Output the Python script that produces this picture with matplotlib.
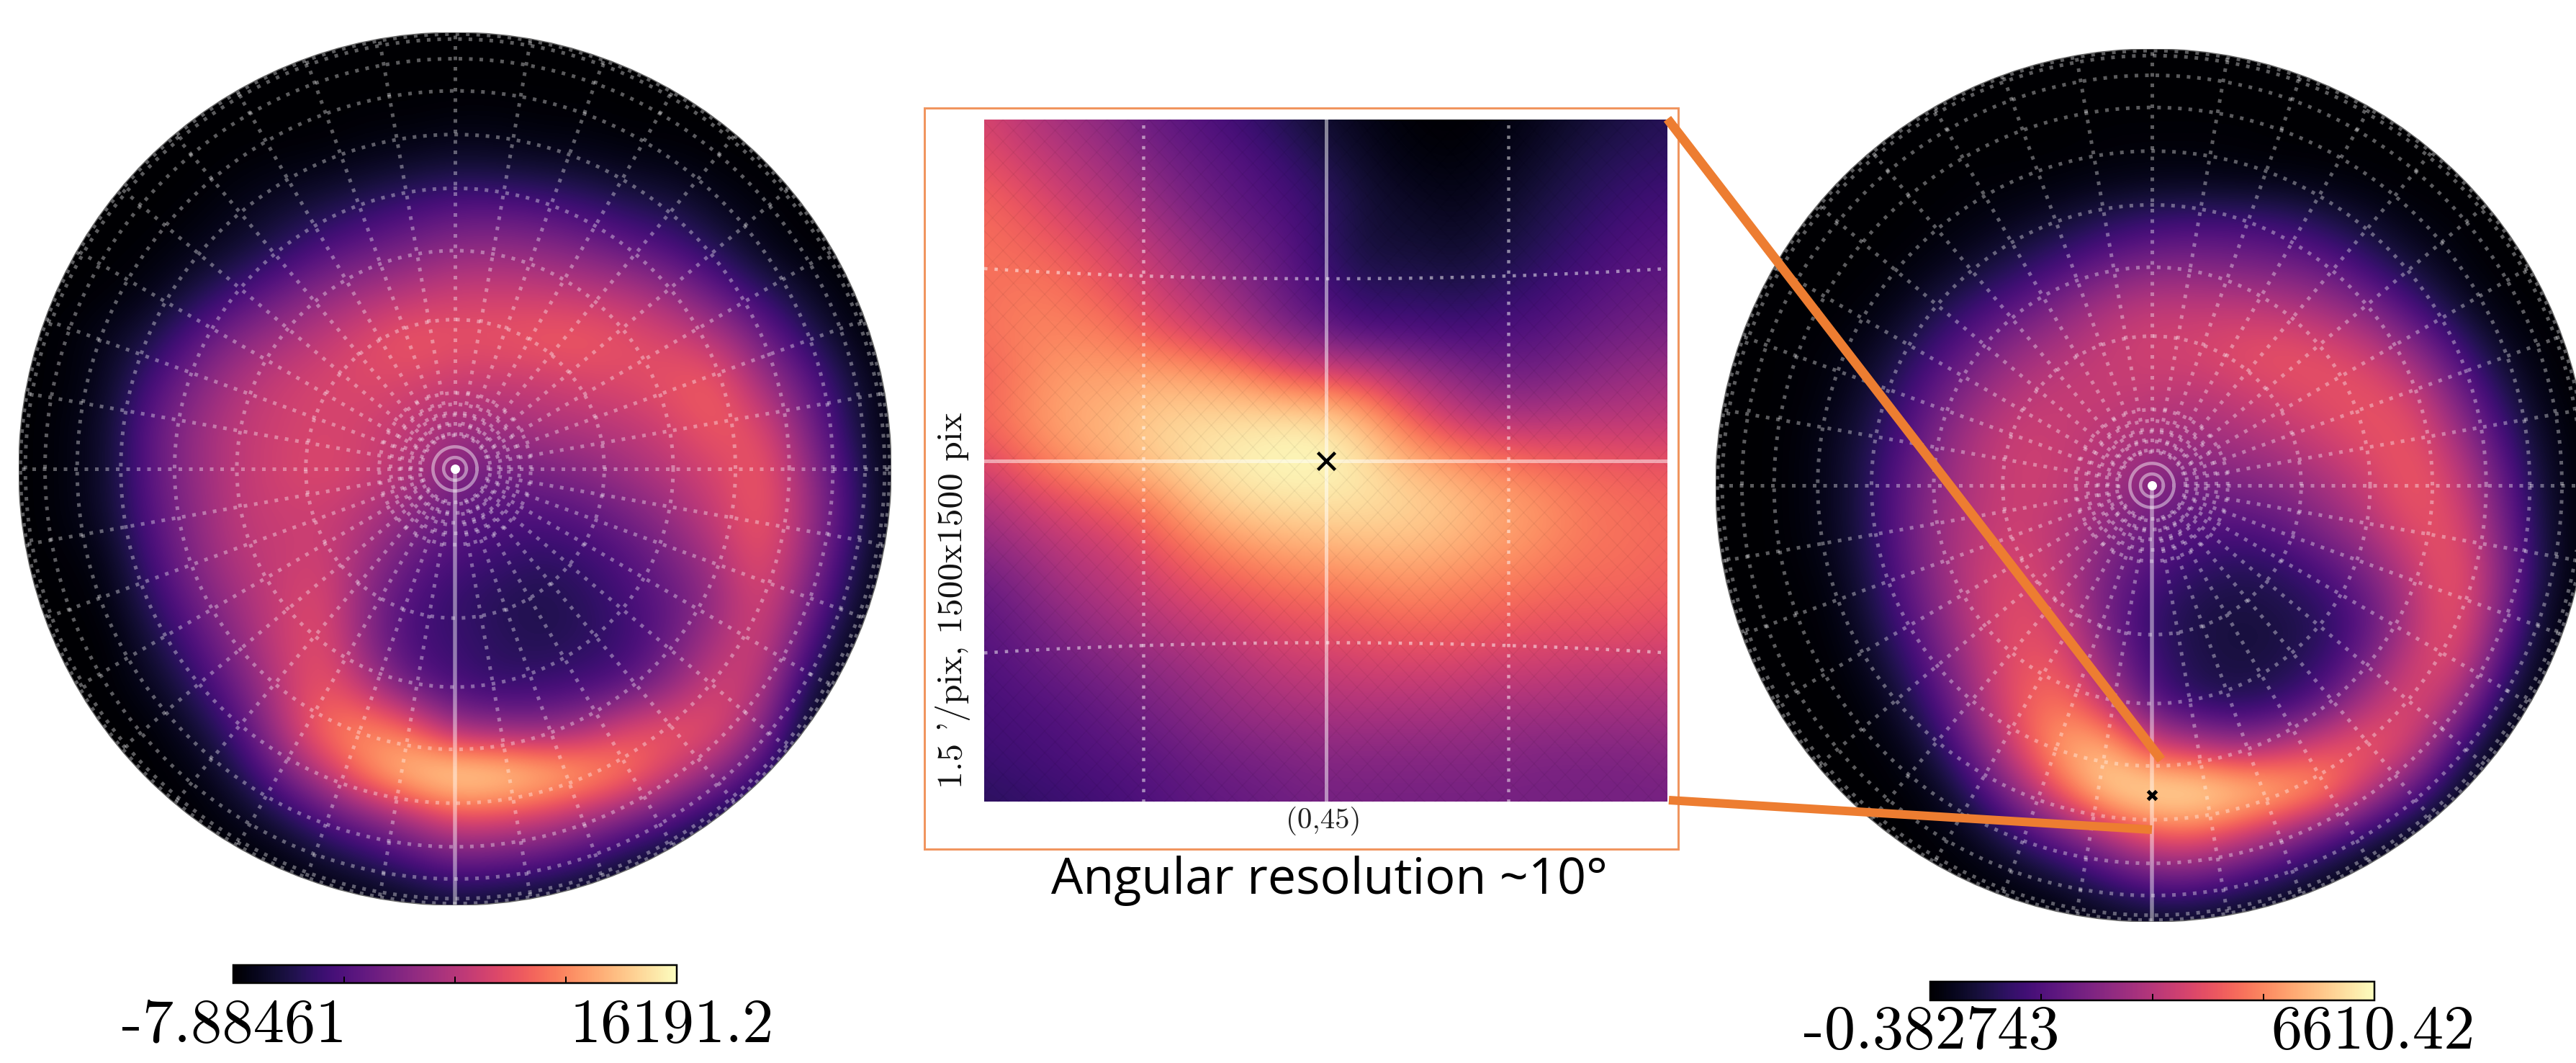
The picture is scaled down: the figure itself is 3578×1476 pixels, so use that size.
import numpy as np
import matplotlib
matplotlib.use("Agg")
import matplotlib.pyplot as plt
from matplotlib.patches import Circle, Rectangle

FW, FH = 3578, 1476
# colour level (percent of the colour scale), rows top to bottom, columns left to right
left_map = [
 [0]*21,
 [0]*21,
 [0,0,0,0,0,0,0,0,1,1,2,2,1,1,0,0,0,0,0,0,0],
 [0,0,0,0,0,1,2,3,5,7,9,8,7,6,4,3,1,0,0,0,0],
 [0,0,0,0,1,4,8,12,17,22,26,26,24,20,15,12,6,2,0,0,0],
 [0,0,0,1,4,9,16,25,31,36,41,42,40,36,30,24,15,6,1,0,0],
 [0,0,1,4,12,22,32,41,47,52,56,56,55,53,50,42,30,18,8,1,0],
 [0,1,5,12,26,38,46,53,60,66,63,64,66,66,62,58,50,34,18,5,0],
 [0,1,6,22,36,48,55,58,60,58,55,54,55,58,60,64,66,46,30,12,1],
 [0,2,8,28,42,52,56,58,56,52,45,45,48,50,52,58,66,60,38,15,1],
 [0,2,8,28,42,52,57,60,56,50,38,34,36,40,46,52,58,66,45,20,2],
 [0,2,8,26,40,52,55,55,50,40,30,26,25,28,35,44,55,66,48,22,2],
 [0,1,4,22,38,50,54,56,44,30,24,20,17,20,26,36,48,64,45,18,1],
 [0,0,2,16,32,45,55,60,38,24,18,15,13,16,22,30,42,60,38,12,0],
 [0,0,0,10,24,40,55,62,38,22,20,16,14,16,20,32,48,58,28,5,0],
 [0,0,0,5,16,32,52,65,50,30,22,18,20,22,28,42,58,52,15,1,0],
 [0,0,0,0,8,22,48,72,78,70,45,42,40,48,62,66,62,40,6,0,0],
 [0,0,0,0,2,12,32,52,76,92,100,98,92,84,74,56,40,20,1,0,0],
 [0,0,0,0,0,4,12,25,36,48,62,60,55,46,35,24,12,3,0,0,0],
 [0,0,0,0,0,0,2,8,14,22,30,28,25,18,10,5,1,0,0,0,0],
 [0,0,0,0,0,0,0,0,2,4,8,6,4,2,0,0,0,0,0,0,0],
]
right_map = [
 [0]*21,
 [0]*21,
 [0,0,0,0,0,0,0,0,0,1,1,1,1,0,0,0,0,0,0,0,0],
 [0,0,0,0,0,0,1,1,2,3,4,4,3,3,2,1,0,0,0,0,0],
 [0,0,0,0,0,1,3,6,10,16,20,22,22,20,14,8,3,1,0,0,0],
 [0,0,0,0,1,4,9,16,24,32,38,38,36,34,30,20,10,3,0,0,0],
 [0,0,0,1,4,12,22,30,40,50,54,54,54,52,46,38,24,10,2,0,0],
 [0,0,1,3,10,22,33,44,50,54,57,58,62,64,62,56,42,24,8,1,0],
 [0,0,1,5,16,30,43,52,54,54,52,50,54,58,62,64,58,36,16,3,0],
 [0,0,2,8,20,36,50,56,54,50,46,44,46,50,56,62,64,48,24,6,0],
 [0,0,2,8,24,40,50,56,54,46,38,34,36,40,46,56,66,56,32,8,0],
 [0,0,2,8,24,42,52,56,50,40,32,26,24,28,38,48,62,62,36,10,0],
 [0,0,1,6,22,40,54,60,50,34,24,17,14,16,24,36,54,66,40,10,0],
 [0,0,0,4,18,36,54,62,54,32,18,12,11,12,16,28,50,66,36,6,0],
 [0,0,0,2,12,30,50,64,62,38,20,13,11,12,18,34,56,62,26,3,0],
 [0,0,0,0,6,22,46,66,72,52,26,16,14,18,30,50,62,46,12,0,0],
 [0,0,0,0,2,12,36,62,84,86,58,52,44,52,62,68,56,22,2,0,0],
 [0,0,0,0,0,4,20,44,70,94,100,100,95,88,78,52,28,6,0,0,0],
 [0,0,0,0,0,1,6,20,34,50,66,68,58,44,28,14,4,0,0,0,0],
 [0,0,0,0,0,0,1,4,10,20,30,30,22,14,6,1,0,0,0,0,0],
 [0,0,0,0,0,0,0,0,1,3,5,5,3,1,0,0,0,0,0,0,0],
]
inset_map = [
 [58,50,44,38,30,26,20,14,8,4,1,0,2,5,9,12,15],
 [62,56,50,44,36,30,26,20,13,7,3,2,4,8,13,16,18],
 [68,63,56,50,42,34,28,24,18,10,7,5,7,12,16,20,22],
 [70,68,64,58,50,42,34,28,18,10,10,8,11,15,20,24,26],
 [70,72,70,64,56,48,40,30,22,16,16,14,16,20,24,28,30],
 [70,74,74,72,64,58,48,38,30,24,24,22,24,26,30,33,35],
 [66,74,80,80,82,80,76,66,60,56,46,40,34,34,38,42,44],
 [68,76,82,85,90,92,93,94,93,82,66,54,48,48,50,50,52],
 [60,70,78,84,90,95,98,100,100,94,84,78,72,68,66,64,62],
 [48,56,62,68,74,86,92,94,95,94,92,88,82,78,72,70,68],
 [40,46,52,56,64,72,78,82,84,86,86,84,80,76,72,70,68],
 [30,38,46,50,56,62,66,70,72,74,76,74,72,70,68,68,66],
 [27,32,38,44,48,52,56,60,62,64,66,66,64,62,62,62,60],
 [24,28,32,36,40,44,48,52,54,56,56,56,54,54,52,52,52],
 [22,24,26,30,34,38,42,44,46,46,46,46,44,44,44,44,44],
 [20,22,24,26,28,32,34,36,38,38,38,38,38,36,36,36,38],
 [16,18,20,22,25,28,30,32,34,34,34,34,34,34,34,34,34],
]
left_range = (-7.88461, 16191.2)
right_range = (-0.382743, 6610.42)
left_labels = ["-7.88461", "16191.2"]
right_labels = ["-0.382743", "6610.42"]
parallels_deg = [10, 20, 30, 40, 50, 60, 70, 80, 85]
pole_dotted_deg = [4.4, 5.8, 7.1, 8.5]
pole_solid_deg = [1.5, 2.9]
meridian_step_deg = 10
inset_graticule_deg = [-10, 10]
inset_half_width_deg = 18.75
center_label = "(0,45)"
inset_side_label = "1.5 '/pix, 1500x1500 pix"
inset_caption = "Angular resolution ~10\u00b0"

SERIF = "cmr10"
ORANGE = "#ED7D31"
px = 72 / 100.0


def ax_px(x0, y0, x1, y1, **kw):
    return fig.add_axes([x0 / FW, 1 - y1 / FH, (x1 - x0) / FW, (y1 - y0) / FH], **kw)


def draw_disk(cx, cy, r, grid, rng):
    ax = ax_px(cx - r, cy - r, cx + r, cy + r)
    ax.set_xlim(-1, 1)
    ax.set_ylim(-1, 1)
    ax.axis("off")
    vals = rng[0] + np.array(grid, float) / 100 * (rng[1] - rng[0])
    n = vals.shape[0]
    h = 1.0 / (n - 1)
    im = ax.imshow(vals, extent=[-1 - h, 1 + h, -1 - h, 1 + h], cmap="magma",
                   vmin=rng[0], vmax=rng[1], interpolation="bicubic", aspect="auto", zorder=1)
    clip = Circle((0, 0), 1, transform=ax.transData)
    im.set_clip_path(clip)
    dot = dict(color="white", alpha=0.36, lw=5 * px, ls=(0, (1, 1.9)), dash_capstyle="butt", zorder=3)
    t = np.linspace(0, 2 * np.pi, 720)
    for d in parallels_deg + pole_dotted_deg:
        s = np.sin(np.radians(d))
        ax.plot(s * np.cos(t), s * np.sin(t), clip_path=clip, **dot)
    for d in pole_solid_deg:
        s = np.sin(np.radians(d))
        ax.plot(s * np.cos(t), s * np.sin(t), color="white", alpha=0.45, lw=4.5 * px, zorder=3)
    rad = np.sin(np.radians(np.linspace(4.4, 90, 200)))
    for a in range(0, 360, meridian_step_deg):
        if a == 270:
            continue
        ar = np.radians(a)
        ax.plot(rad * np.cos(ar), rad * np.sin(ar), clip_path=clip, **dot)
    ax.plot([0, 0], [0, -1], color="white", alpha=0.45, lw=5.5 * px, zorder=3, clip_path=clip)
    ax.scatter([0], [0], s=(13 * px) ** 2, color="white", zorder=4, linewidths=0)
    ax.add_patch(Circle((0, 0), 1, fill=False, ec="#666666", lw=1.5 * px, zorder=5))
    return ax, im


def draw_cbar(im, x0, y0, x1, y1):
    cax = ax_px(x0, y0, x1, y1)
    cb = fig.colorbar(im, cax=cax, orientation="horizontal")
    lo, hi = im.get_clim()
    cb.set_ticks([lo + (hi - lo) * f for f in (0.25, 0.5, 0.75)])
    cb.ax.tick_params(axis="x", direction="in", length=9 * px, width=2 * px,
                      labelbottom=False, color="black")
    cb.outline.set_linewidth(2.5 * px)
    cb.outline.set_edgecolor("black")


fig = plt.figure(figsize=(FW / 100, FH / 100), dpi=100, facecolor="white")

# left disk
_, im_l = draw_disk(632, 651, 606, left_map, left_range)
draw_cbar(im_l, 324, 1340, 940, 1365)

# right disk
ax_r, im_r = draw_disk(2989, 674, 606, right_map, right_range)
draw_cbar(im_r, 2681, 1363, 3298, 1389)
ax_r.plot([0], [-0.71], marker="x", color="black", ms=12 * px, mew=5 * px, zorder=6)

# inset
ax_i = ax_px(1367, 166, 2316, 1113.5)
hw = inset_half_width_deg
ax_i.set_xlim(-hw, hw)
ax_i.set_ylim(-hw, hw)
ax_i.axis("off")
ny = len(inset_map)
hi = hw / (ny - 1)
ax_i.imshow(inset_map, extent=[-hw - hi, hw + hi, -hw - hi, hw + hi], cmap="magma", vmin=0, vmax=100,
            interpolation="bicubic", aspect="auto", zorder=1)
# faint HEALPix pixel facets
step = 1.2
for c in np.arange(-3 * hw, 3 * hw, step):
    xs = np.array([-hw, hw])
    ax_i.plot(xs, c + xs * 1.05, color="black", alpha=0.045, lw=1.6 * px, zorder=2)
    ax_i.plot(xs, c - xs * 1.05, color="black", alpha=0.045, lw=1.6 * px, zorder=2)
ax_i.set_xlim(-hw, hw)
ax_i.set_ylim(-hw, hw)
dot_i = dict(color="white", alpha=0.5, lw=4.5 * px, ls=(0, (1, 2.2)), dash_capstyle="butt", zorder=3)
xx = np.linspace(-hw, hw, 100)
for d in inset_graticule_deg:
    ax_i.plot([d, d], [-hw, hw], **dot_i)
    ax_i.plot(xx, d / np.cos(np.radians(xx)), **dot_i)
ax_i.axvline(0, color="white", alpha=0.5, lw=5 * px, zorder=3)
ax_i.axhline(0, color="white", alpha=0.5, lw=5 * px, zorder=3)
ax_i.plot([0], [0], marker="x", color="black", ms=24 * px, mew=4.5 * px, zorder=6)

# overlay in pixel coordinates for annotations
ov = fig.add_axes([0, 0, 1, 1], zorder=20)
ov.set_xlim(0, FW)
ov.set_ylim(FH, 0)
ov.axis("off")
ov.patch.set_alpha(0)
ov.add_patch(Rectangle((1284, 150), 1047, 1029, fill=False, ec="#F0955F", lw=3 * px))
ov.plot([2316, 3002], [165, 1055], color=ORANGE, lw=13 * px, solid_capstyle="butt")
ov.plot([2318, 2989], [1111, 1152], color=ORANGE, lw=12 * px, solid_capstyle="butt")

big = dict(family=SERIF, fontsize=62.3, va="baseline", ha="center", color="black")
ov.text(325, 1447, left_labels[0], **big)
ov.text(933, 1447, left_labels[1], **big)
ov.text(2683, 1456, right_labels[0], **big)
ov.text(3296, 1456, right_labels[1], **big)
ov.text(1838, 1140, center_label, family=SERIF, fontsize=29.5, ha="center", va="center", color="#222222")
ov.text(1323, 834, inset_side_label, family=SERIF, fontsize=35.6, ha="center", va="center",
        rotation=90, color="#111111")
ov.text(1847, 1223, inset_caption, family="Open Sans", fontsize=50.5, fontweight=500,
        ha="center", va="center", color="black")

fig.savefig("out.png", dpi=100, facecolor="white")
